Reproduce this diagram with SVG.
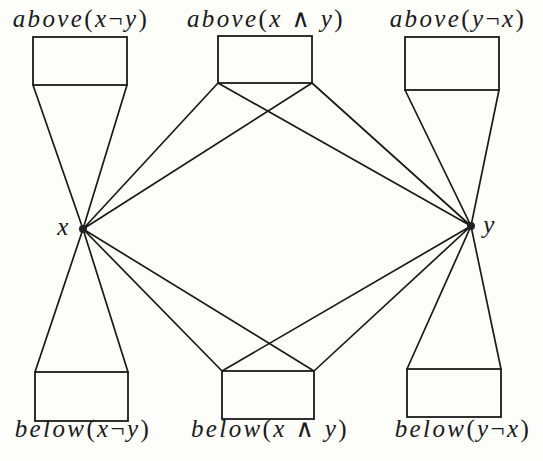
<svg xmlns="http://www.w3.org/2000/svg" width="543" height="461" viewBox="0 0 543 461">
<style>
.box{fill:none;stroke:#1a1a1a;stroke-width:1.8}
.ln{stroke:#1a1a1a;stroke-width:1.7;fill:none}
.lbl{font-family:'Liberation Serif','DejaVu Serif',serif;font-style:italic;font-size:25px;letter-spacing:2.4px;fill:#1a1a1a}
.up{font-style:normal}
.pt{fill:#222}
</style>
<rect width="543" height="461" fill="#fdfdfa"/>
<g id="connectors">
<path class="ln" d="M33,85 L83,229 L128,372 M127,85 L83,229 L35,372"/>
<path class="ln" d="M218,83 L83,229 M312,83 L83,229 M218,83 L471,226 M312,83 L471,226"/>
<path class="ln" d="M222,371 L83,229 M314,371 L83,229 M222,371 L471,226 M314,371 L471,226"/>
<path class="ln" d="M405,90 L471,226 L501,369 M499,90 L471,226 L407,369"/>
</g>
<g id="above-x-not-y">
<rect class="box" x="33" y="37" width="94" height="48"/>
<text class="lbl" x="81" y="27" text-anchor="middle">above<tspan class="up">(</tspan>x<tspan class="up">¬</tspan>y<tspan class="up">)</tspan></text>
</g>
<g id="above-x-and-y">
<rect class="box" x="218" y="36" width="94" height="47"/>
<text class="lbl" x="266" y="27" text-anchor="middle">above<tspan class="up">(</tspan>x <tspan class="up">∧</tspan> y<tspan class="up">)</tspan></text>
</g>
<g id="above-y-not-x">
<rect class="box" x="405" y="37" width="94" height="53"/>
<text class="lbl" x="458" y="27" text-anchor="middle">above<tspan class="up">(</tspan>y<tspan class="up">¬</tspan>x<tspan class="up">)</tspan></text>
</g>
<g id="below-x-not-y">
<rect class="box" x="35" y="372" width="93" height="49"/>
<text class="lbl" x="83" y="437" text-anchor="middle">below<tspan class="up">(</tspan>x<tspan class="up">¬</tspan>y<tspan class="up">)</tspan></text>
</g>
<g id="below-x-and-y">
<rect class="box" x="222" y="371" width="92" height="48"/>
<text class="lbl" x="270" y="437" text-anchor="middle">below<tspan class="up">(</tspan>x <tspan class="up">∧</tspan> y<tspan class="up">)</tspan></text>
</g>
<g id="below-y-not-x">
<rect class="box" x="407" y="369" width="94" height="48"/>
<text class="lbl" x="463" y="437" text-anchor="middle">below<tspan class="up">(</tspan>y<tspan class="up">¬</tspan>x<tspan class="up">)</tspan></text>
</g>
<g id="x">
<circle class="pt" cx="83" cy="229" r="4"/>
<text class="lbl" x="64" y="235" text-anchor="middle">x</text>
</g>
<g id="y">
<circle class="pt" cx="471" cy="226" r="4"/>
<text class="lbl" x="490" y="233" text-anchor="middle">y</text>
</g>
</svg>
